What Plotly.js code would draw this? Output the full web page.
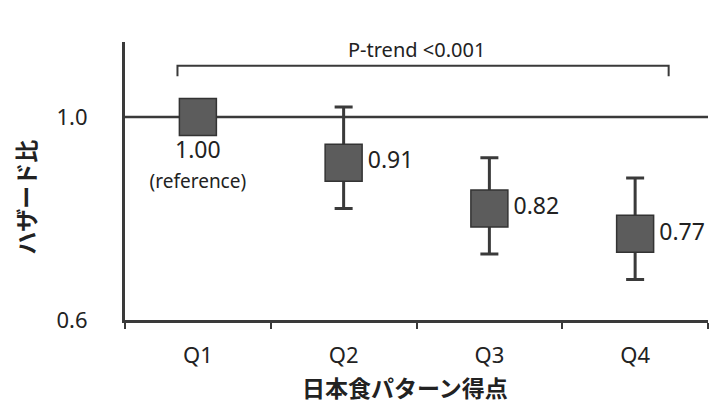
<!DOCTYPE html>
<html><head><meta charset="utf-8">
<script src="https://cdn.plot.ly/plotly-3.0.1.min.js"></script>
<style>body{margin:0;background:#fff}</style>
</head><body>
<div id="chart" style="width:711px;height:403px"></div>
<script>
const categories = ["Q1", "Q2", "Q3", "Q4"];
const hazardRatio = [1.00, 0.91, 0.82, 0.77];
const ciUpper = [1.00, 1.02, 0.92, 0.88];
const ciLower = [1.00, 0.82, 0.73, 0.68];
const valueLabels = ["1.00<br><span style='font-size:19px'>(reference)</span>", "0.91", "0.82", "0.77"];
const yTicks = [0.6, 1.0];
const yTickLabels = ["0.6", "1.0"];
const pTrendText = "P-trend <0.001";
const xTitle = "日本食パターン得点";
const yTitle = "ハザード比";

const errPlus = hazardRatio.map((v, i) => ciUpper[i] - v);
const errMinus = hazardRatio.map((v, i) => v - ciLower[i]);

const font = "Noto Sans, Open Sans, sans-serif";
const cjk = "Noto Sans CJK JP, sans-serif";
const dark = "#3a3a3a";

const trace = {
  type: "scatter",
  mode: "markers+text",
  x: categories,
  y: hazardRatio,
  text: valueLabels,
  textposition: ["bottom center", "middle right", "middle right", "middle right"],
  textfont: {family: font, size: 23, color: "#222"},
  marker: {symbol: "square", size: 37, color: "#5c5c5c", line: {color: "#333", width: 1.5}},
  error_y: {type: "data", symmetric: false, array: errPlus, arrayminus: errMinus,
            color: dark, thickness: 3, width: 9},
  cliponaxis: true,
  hoverinfo: "skip"
};

const layout = {
  width: 711, height: 403,
  margin: {l: 125, r: 3, t: 42, b: 83},
  paper_bgcolor: "#fff", plot_bgcolor: "#fff",
  showlegend: false,
  font: {family: font, color: "#222"},
  xaxis: {
    type: "category", range: [-0.5, 3.5],
    showline: true, linecolor: dark, linewidth: 3,
    ticks: "outside", tickson: "boundaries", ticklen: 6, tickwidth: 2, tickcolor: dark,
    showgrid: false, zeroline: false,
    tickfont: {size: 22, family: font, color: "#222"},
    ticklabelstandoff: 14
  },
  yaxis: {
    range: [0.6, 1.148],
    tickvals: yTicks, ticktext: yTickLabels,
    showline: true, linecolor: dark, linewidth: 3,
    ticks: "", showgrid: false, zeroline: false,
    tickfont: {size: 22, family: font, color: "#222"},
    ticklabelstandoff: 30
  },
  shapes: [
    {type: "line", xref: "paper", yref: "y", x0: 0, x1: 1, y0: 1.0, y1: 1.0,
     line: {color: dark, width: 2.5}, layer: "below"},
    {type: "path", xref: "x", yref: "paper",
     path: "M -0.14,0.877 L -0.14,0.915 L 3.23,0.915 L 3.23,0.877",
     line: {color: dark, width: 2}}
  ],
  annotations: [
    {xref: "x", yref: "paper", x: 1.5, y: 0.915, yanchor: "bottom", yshift: 1, showarrow: false,
     text: pTrendText, font: {size: 20, family: font, color: "#222"}},
    {xref: "paper", yref: "paper", x: 0.48, y: -0.24, xanchor: "center", yanchor: "middle", showarrow: false,
     text: "<b>" + xTitle + "</b>", font: {size: 23, family: cjk, color: "#222"}},
    {xref: "paper", yref: "paper", x: -0.1715, y: 0.44, xanchor: "center", yanchor: "middle", showarrow: false,
     textangle: -90, text: "<b>" + yTitle + "</b>", font: {size: 23, family: cjk, color: "#222"}}
  ]
};

Plotly.newPlot("chart", [trace], layout, {staticPlot: true, displayModeBar: false});
</script>
</body></html>
